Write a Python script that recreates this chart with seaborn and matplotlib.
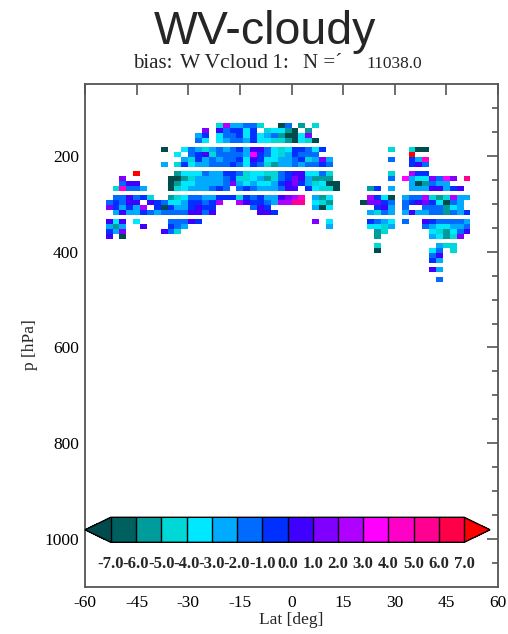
import numpy as np
import pandas as pd
import matplotlib
matplotlib.use("Agg")
import matplotlib.pyplot as plt
from matplotlib.colors import ListedColormap, BoundaryNorm
from matplotlib.cm import ScalarMappable
import seaborn as sns

sns.set_style("white")
plt.rcParams["font.family"] = ["Liberation Serif", "DejaVu Serif"]

# ---------------------------------------------------------------- data
lat_min, lat_max, lat_step = -60, 60, 2
p_min, p_max = 50, 1100

# top of each 50 hPa layer; every layer holds four pressure bins
layer_top_hpa = [131.25, 181.25, 231.25, 281.25, 331.25, 381.25, 431.25]
bin_depth_hpa = 10.42

# colour-bar boundaries for the bias
bias_levels = [-7, -6, -5, -4, -3, -2, -1, 0, 1, 2, 3, 4, 5, 6, 7]
bias_colors = ["#005f5f", "#009b9b", "#00d8d8", "#00e8ff", "#00aaff", "#006cff",
               "#0030ff", "#4000ff", "#8000ff", "#b000ff", "#ff00ff", "#ff00c8",
               "#ff0090", "#ff0048"]
under_color = "#004c4c"
over_color = "#ff0000"

# bias class of a cell: letter -> centre of its colour-bar interval
class_bias = {"D": -7.5, "E": -6.5, "T": -5.5, "U": -4.5, "C": -3.5, "L": -2.5,
              "M": -1.5, "B": -0.5, "I": 0.5, "V": 1.5, "P": 2.5, "G": 3.5,
              "K": 4.5, "H": 5.5, "R": 6.5, "X": 7.5}

# one string per pressure bin (top to bottom); one character per 2-degree band
bias_rows = [
    ".......... .........U PLLMMU..DM .T.U...... .......... ..........",
    ".......... .......V.I MBBCB.UCCT D.T....... .......... ..........",
    ".......... ......LB.C MMBCBCLMTD DCV....... .......... ..........",
    ".......... ......MC.C LMMLBCCUUT DCUD...... .......... ..........",
    ".......... .D..CMLULM LMBLIIMCUC BBMCB..... ....U..UDD ..........",
    ".......... ...C.MBIUM MMMLGBMCUL BMMM...... .......X.. ..........",
    ".......... ....LUBLML MMBCIBCCLL MBULVL.... ....M..BLK ..........",
    ".......... .L.UBCLLMM MBMCBMUTLL MLMMBM.... .......BIM ..........",
    ".......X.. ...TCCCMLL BBMUCCUUMB IICCMU.... ....U..PBB ..........",
    ".....V.... ..DDTULLLL MBUUCLTUMB VILTTT.... ....M.GLCC VMGV.H....",
    ".....MII.. ..DTCCLLLL MVLCLCCLBI VBLUCDD... .......LDT MLL.......",
    "....UKMML. ..DUCLLLMB M.MBMLLLMI I.BCUUD... .TB.L..LLL IILBI.....",
    "....MMIMBU ..TUCMMLLB BBUBMBLLIV PK.LTC.... .PBCD.LMMP UTUPLL....",
    "...MBMII.I BMCCLBBMBP ..PIBBMLPP HH.CUT.... DVVBM.MBIV BCDML.....",
    "...VBLBLP. BDBLLBIBB. ....MIB... ...LDC.... ..BIL.M..M MMTCL.....",
    "....LILLBM LMMMMIIMI. .....IIB.. .......... .LUML.LILL MMTMLB....",
    "...ICI.C.. ..MMMIB... .......... ...V.C.... .BMLC.M..I BMMMML....",
    "...LTL..I. ..BML..... .......... .....L.... .CCUL....M LCCLLM....",
    "...BLV.... .IMU...... .......... .......... ..TU...... CUTCMI....",
    "...I.D.... .......... .......... .......... ..T....... LCTUV.....",
    ".......... .......... .......... .......... ..U....... .LUU......",
    ".......... .......... .......... .......... ..D....... CM.U......",
    ".......... .......... .......... .......... .......... MI........",
    ".......... .......... .......... .......... .......... BL........",
    ".......... .......... .......... .......... .......... IL........",
    ".......... .......... .......... .......... .......... ..........",
    ".......... .......... .......... .......... .......... .M........",
    ".......... .......... .......... .......... .......... ..........",
]

lat_ticks = [-60, -45, -30, -15, 0, 15, 30, 45, 60]
p_ticks = [200, 400, 600, 800, 1000]
p_minor_ticks = [100, 150, 250, 300, 350, 450, 500, 550, 650, 700, 750,
                 850, 900, 950, 1050]
n_obs = 11038.0

# ------------------------------------------------------- gridded field
dp = 0.5
lat_centres = np.arange(lat_min + lat_step / 2, lat_max, lat_step)
p_centres = np.arange(p_min + dp / 2, p_max, dp)
grid = np.full((len(p_centres), len(lat_centres)), np.nan)
for k, row in enumerate(bias_rows):
    codes = row.replace(" ", "")
    top = layer_top_hpa[k // 4] + (k % 4) * bin_depth_hpa
    sel = (p_centres >= top) & (p_centres < top + bin_depth_hpa)
    grid[sel, :] = [class_bias.get(ch, np.nan) for ch in codes]
field = pd.DataFrame(grid, index=p_centres, columns=lat_centres)

cmap = ListedColormap(bias_colors)
cmap.set_under(under_color)
cmap.set_over(over_color)
norm = BoundaryNorm(bias_levels, cmap.N)

# ---------------------------------------------------------------- plot
W, H = 508, 634
fig = plt.figure(figsize=(W / 100, H / 100), dpi=100)
ax = fig.add_axes([85 / W, (H - 587) / H, 413 / W, 503 / H])
sns.heatmap(field, ax=ax, cmap=cmap, norm=norm, cbar=False,
            xticklabels=False, yticklabels=False)


def x_pos(lat):
    return (lat - lat_min) / lat_step


def y_pos(p):
    return (p - p_min) / dp


frame = "#555555"
for s in ax.spines.values():
    s.set_visible(True)
    s.set_color(frame)
    s.set_linewidth(1.3)

ax.set_xticks([x_pos(v) for v in lat_ticks], labels=[str(v) for v in lat_ticks])
ax.set_yticks([y_pos(v) for v in p_ticks], labels=[str(v) for v in p_ticks])
ax.set_yticks([y_pos(v) for v in p_minor_ticks], minor=True)
ax.tick_params(which="both", direction="in", top=True, right=True,
               color=frame, width=1.2, labelsize=12.5, labelcolor="black")
ax.tick_params(axis="x", pad=6)
ax.tick_params(axis="y", pad=4.5)
ax.tick_params(which="major", length=8)
ax.tick_params(which="minor", length=4.5)
ax.set_xlabel("")
ax.set_ylabel("")

# colour bar inside the plot frame
cax = fig.add_axes([85 / W, (H - 542.3) / H, 405 / W, 25 / H])
sm = ScalarMappable(norm=norm, cmap=cmap)
cb = fig.colorbar(sm, cax=cax, orientation="horizontal", extend="both",
                  extendfrac=0.073, drawedges=True, ticks=bias_levels)
cb.outline.set_edgecolor("black")
cb.outline.set_linewidth(1.0)
cb.dividers.set_color("black")
cb.dividers.set_linewidth(1.0)
cb.set_ticklabels([f"{v:.1f}" for v in bias_levels])
cb.ax.tick_params(length=0, pad=10)
for t in cb.ax.get_xticklabels():
    t.set_fontweight("bold")
    t.set_fontsize(12)

# titles and axis labels
fig.text(264.5 / W, 1 - 44 / H, "WV-cloudy", ha="center", va="baseline",
         fontsize=33.5, family=["Liberation Sans", "DejaVu Sans"])
fig.text(133 / W, 1 - 68.3 / H, "bias:", ha="left", va="baseline", fontsize=15)
fig.text(180 / W, 1 - 68.3 / H, "W\u2009Vcloud\u20091:", ha="left",
         va="baseline", fontsize=15.5)
fig.text(302.7 / W, 1 - 68.3 / H, "N =\u00b4", ha="left", va="baseline",
         fontsize=15)
fig.text(366.7 / W, 1 - 68.3 / H, f"{n_obs:.1f}", ha="left", va="baseline",
         fontsize=12.5)
fig.text(30 / W, 1 - 345 / H, "p [hPa]", rotation=90, ha="center",
         va="center", fontsize=12.5)
fig.text(291.5 / W, 1 - 620 / H, "Lat [deg]", ha="center", va="center",
         fontsize=12.5)

fig.savefig("out.png", dpi=100, facecolor="white")
